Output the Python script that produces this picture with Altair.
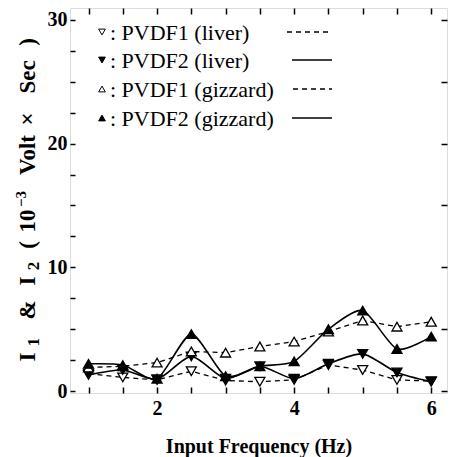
import altair as alt
import pandas as pd

freq = [1, 1.5, 2, 2.5, 3, 3.5, 4, 4.5, 5, 5.5, 6]
pvdf1_liver = [1.4, 1.1, 0.9, 1.6, 0.85, 0.75, 0.9, 2.1, 1.7, 0.9, 0.8]
pvdf2_liver = [1.3, 1.7, 0.95, 2.8, 1.0, 2.0, 1.0, 2.2, 3.0, 1.5, 0.75]
pvdf1_gizzard = [1.9, 2.0, 2.3, 3.2, 3.1, 3.6, 4.0, 4.8, 5.7, 5.2, 5.6]
pvdf2_gizzard = [2.2, 2.1, 1.0, 4.6, 1.2, 2.0, 2.4, 5.0, 6.5, 3.4, 4.4]

series_names = ["PVDF1 (liver)", "PVDF2 (liver)", "PVDF1 (gizzard)", "PVDF2 (gizzard)"]
series_values = [pvdf1_liver, pvdf2_liver, pvdf1_gizzard, pvdf2_gizzard]
series_shapes = ["triangle-down", "triangle-down", "triangle-up", "triangle-up"]
series_fills = ["white", "black", "white", "black"]
series_dashed = [True, False, True, False]

x_label_values = [2, 4, 6]
x_tick_values = [1, 1.5, 2, 2.5, 3, 3.5, 4, 4.5, 5, 5.5, 6]
y_label_values = [0, 10, 20, 30]
y_left_ticks = [0, 2.5, 5, 7.5, 10, 12.5, 15, 17.5, 20, 22.5, 25, 27.5, 30]
y_right_ticks = [0, 5, 10, 15, 20, 25, 30]

x_title = "Input Frequency (Hz)"
# y title: I1 & I2 ( 10^-3 Volt x Sec ), written piece by piece (text, role)
y_title_parts = ["I", "1", "&", "I", "2", "(", "10", "\u22123", "Volt", "\u00d7", "Sec", ")"]
y_title_roles = ["main", "sub", "main", "main", "sub", "main", "main", "sup", "main", "main", "main", "main"]

rows = []
for name, vals in zip(series_names, series_values):
    for f, v in zip(freq, vals):
        rows.append({"freq": f, "value": v, "series": name})
df = pd.DataFrame(rows)

W, H = 377, 385
SERIF = "Liberation Serif"

xscale = alt.Scale(domain=[0.73, 6.23], nice=False, zero=False)
yscale = alt.Scale(domain=[-0.16, 30.96], nice=False, zero=False)

base = alt.Chart(df)

dashed = base.transform_filter(
    alt.FieldOneOfPredicate(field="series", oneOf=[n for n, d in zip(series_names, series_dashed) if d])
).mark_line(color="black", strokeWidth=1.3, strokeDash=[5, 4]).encode(
    x=alt.X("freq:Q", scale=xscale, axis=alt.Axis(
        orient="bottom", values=x_label_values, ticks=False, tickSize=0, domain=False, grid=False,
        labelFont=SERIF, labelFontSize=20, labelFontWeight="bold", labelColor="black", labelPadding=5,
        title=x_title, titleFont=SERIF, titleFontSize=20, titleFontWeight="bold",
        titleColor="black", titlePadding=18)),
    y=alt.Y("value:Q", scale=yscale, axis=alt.Axis(
        orient="left", values=y_label_values, ticks=False, tickSize=0, domain=False, grid=False,
        labelFont=SERIF, labelFontSize=20, labelFontWeight="bold", labelColor="black", labelPadding=3,
        title=None)),
    detail="series:N",
)

solid = base.transform_filter(
    alt.FieldOneOfPredicate(field="series", oneOf=[n for n, d in zip(series_names, series_dashed) if not d])
).mark_line(color="black", strokeWidth=1.6, interpolate="cardinal", tension=0.3).encode(
    x=alt.X("freq:Q", scale=xscale, axis=alt.Axis(
        orient="top", offset=-H, values=x_tick_values, labels=False, domain=False, grid=False,
        tickSize=6, tickWidth=1.5, tickColor="black", title=None)),
    y=alt.Y("value:Q", scale=yscale, axis=alt.Axis(
        orient="right", offset=-W, values=y_left_ticks, labels=False, domain=False, grid=False,
        tickSize=5, tickWidth=1.5, tickColor="black", title=None)),
    detail="series:N",
)

points = base.mark_point(filled=True, stroke="black", strokeWidth=1.3, size=100, opacity=1).encode(
    x=alt.X("freq:Q", scale=xscale, axis=alt.Axis(
        orient="bottom", offset=-H, values=x_tick_values, labels=False, domain=False, grid=False,
        tickSize=6, tickWidth=1.5, tickColor="black", title=None)),
    y=alt.Y("value:Q", scale=yscale, axis=alt.Axis(
        orient="left", offset=-W, values=y_right_ticks, labels=False, domain=False, grid=False,
        tickSize=6, tickWidth=1.5, tickColor="black", title=None)),
    shape=alt.Shape("series:N", scale=alt.Scale(domain=series_names, range=series_shapes), legend=None),
    fill=alt.Fill("series:N", scale=alt.Scale(domain=series_names, range=series_fills), legend=None),
)

# in-plot legend
legend_layers = []
row_y = [24, 52, 81, 110]
line_x1 = [217, 222, 223, 222]
for i, (name, shape, fill, dsh) in enumerate(zip(series_names, series_shapes, series_fills, series_dashed)):
    ldf = pd.DataFrame({"label": [": " + name]})
    lc = alt.Chart(ldf)
    legend_layers.append(lc.mark_point(filled=True, shape=shape, fill=fill, stroke="black",
                                       strokeWidth=1, size=45, opacity=1).encode(
        x=alt.value(32), y=alt.value(row_y[i])))
    legend_layers.append(lc.mark_text(align="left", baseline="middle", font=SERIF, fontSize=22,
                                      color="black").encode(
        x=alt.value(40), y=alt.value(row_y[i] + 1), text="label:N"))
    line_kw = dict(color="black", strokeWidth=1.3)
    if dsh:
        line_kw["strokeDash"] = [5, 4]
    legend_layers.append(lc.mark_rule(**line_kw).encode(
        x=alt.value(line_x1[i]), x2=alt.value(262), y=alt.value(row_y[i])))

# rotated y-axis title, piece by piece (layout positions relative to plot origin)
title_layers = []
part_y = [349, 334, 302, 273, 258, 237, 213, 191, 147, 111, 69, 34]
role_dx = {"main": -42, "sub": -36, "sup": -49}
role_size = {"main": 23, "sub": 17, "sup": 15}
for txt, role, py in zip(y_title_parts, y_title_roles, part_y):
    tdf = pd.DataFrame({"t": [txt]})
    title_layers.append(alt.Chart(tdf).mark_text(
        align="center", baseline="middle", angle=270, font=SERIF, fontSize=role_size[role],
        fontWeight="bold", color="black").encode(
        x=alt.value(role_dx[role]), y=alt.value(py), text="t:N"))

chart = alt.layer(dashed, solid, points, *legend_layers, *title_layers).resolve_axis(
    x="independent", y="independent"
).properties(
    width=W, height=H,
    autosize=alt.AutoSizeParams(type="none"),
    padding={"left": 70, "top": 8, "right": 2, "bottom": 64},
).configure_view(stroke="black", strokeWidth=1.5).configure(background="white")

chart.save("out.html", embed_options={"renderer": "svg", "actions": False})
